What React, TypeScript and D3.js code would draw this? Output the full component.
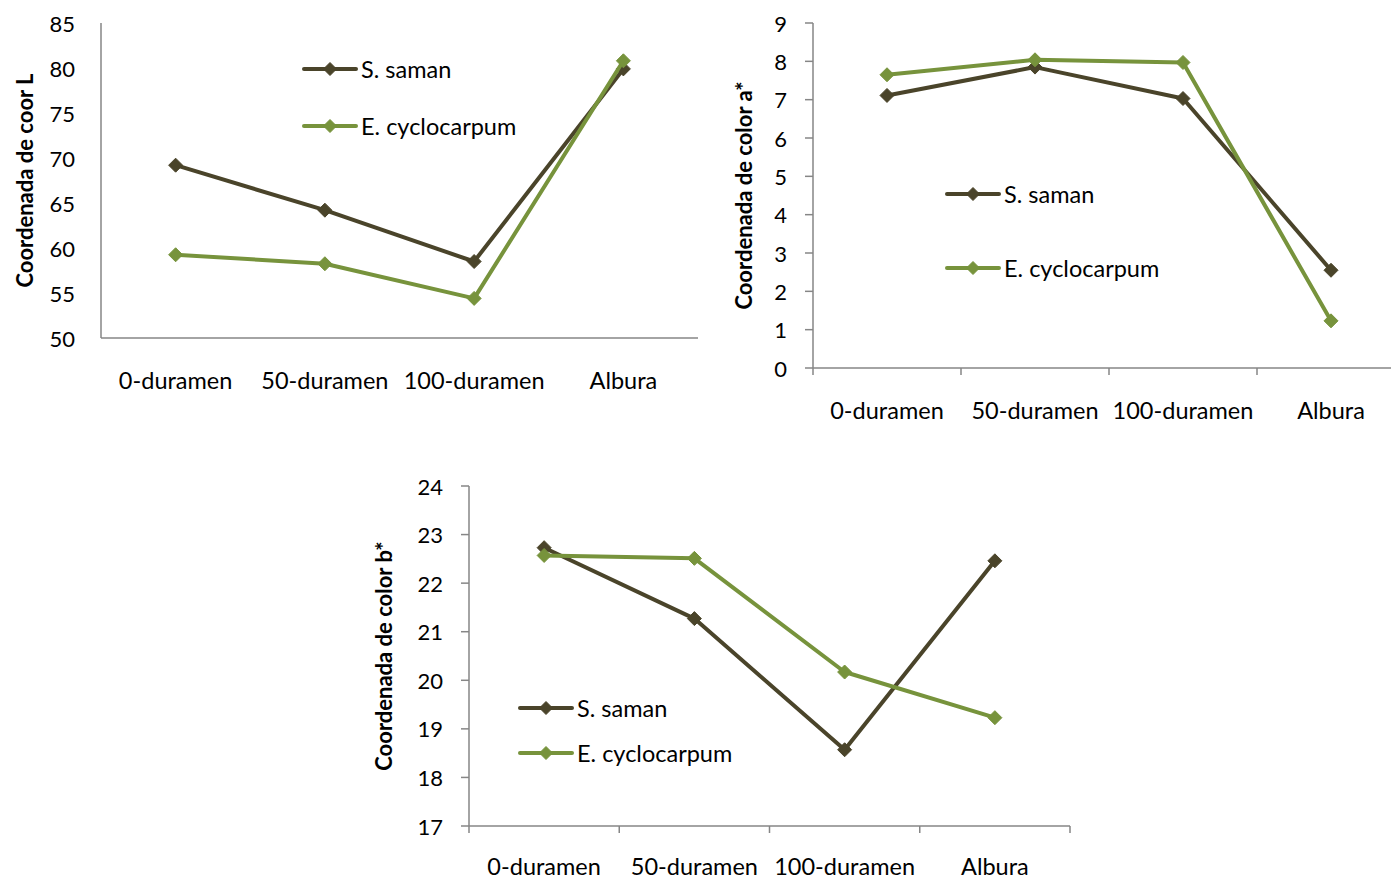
import React from "react";
import * as d3 from "d3";

// Wood zones measured along the radius
const categories = ["0-duramen", "50-duramen", "100-duramen", "Albura"];
const seriesNames = ["S. saman", "E. cyclocarpum"];
const seriesColors = ["#4a442a", "#77933c"];

// Coordinate L*
const samanL = [69.2, 64.2, 58.5, 79.9];
const cycloL = [59.25, 58.25, 54.4, 80.8];
const ticksL = [50, 55, 60, 65, 70, 75, 80, 85];

// Coordinate a*
const samanA = [7.11, 7.85, 7.03, 2.55];
const cycloA = [7.65, 8.04, 7.97, 1.23];
const ticksA = [0, 1, 2, 3, 4, 5, 6, 7, 8, 9];

// Coordinate b*
const samanB = [22.73, 21.27, 18.57, 22.46];
const cycloB = [22.57, 22.51, 20.17, 19.23];
const ticksB = [17, 18, 19, 20, 21, 22, 23, 24];

const FONT = "Lato, 'Open Sans', sans-serif";
const AXIS = "#868686";
const LABEL_SIZE = 23.5;
const TICK_SIZE = 22;
const TITLE_SIZE = 22;

type PanelProps = {
  left: number;
  right: number;
  top: number;
  bottom: number;
  ticks: number[];
  series: number[][];
  title: string;
  titleX: number;
  tickMarks: boolean;
  labelY: number;
  legendX: number;
  legendY: number[];
};

function Diamond({ x, y, color, r = 7 }: { x: number; y: number; color: string; r?: number }) {
  return (
    <path
      d={`M${x},${y - r}L${x + r},${y}L${x},${y + r}L${x - r},${y}Z`}
      fill={color}
      stroke={color}
      strokeWidth={1}
      strokeLinejoin="round"
    />
  );
}

function Panel(p: PanelProps) {
  const x = d3.scaleBand<string>().domain(categories).range([p.left, p.right]).padding(0);
  const y = d3
    .scaleLinear()
    .domain([p.ticks[0], p.ticks[p.ticks.length - 1]])
    .range([p.bottom, p.top]);
  const cx = (c: string) => (x(c) ?? 0) + x.bandwidth() / 2;
  const line = d3
    .line<number>()
    .x((_, i) => cx(categories[i]))
    .y((v) => y(v));
  const bounds = [...categories.map((c) => x(c) ?? 0), p.right];

  return (
    <g>
      {/* axes */}
      <line x1={p.left} x2={p.left} y1={p.top} y2={p.bottom} stroke={AXIS} strokeWidth={1.5} />
      <line x1={p.left} x2={p.right} y1={p.bottom} y2={p.bottom} stroke={AXIS} strokeWidth={1.5} />
      {p.tickMarks &&
        p.ticks.map((t) => (
          <line key={`yt${t}`} x1={p.left - 8} x2={p.left} y1={y(t)} y2={y(t)} stroke={AXIS} strokeWidth={1.5} />
        ))}
      {p.tickMarks &&
        bounds.map((b, i) => (
          <line key={`xt${i}`} x1={b} x2={b} y1={p.bottom} y2={p.bottom + 7} stroke={AXIS} strokeWidth={1.5} />
        ))}
      {p.ticks.map((t) => (
        <text
          key={`yl${t}`}
          x={p.left - 26}
          y={y(t)}
          textAnchor="end"
          dominantBaseline="central"
          fontFamily={FONT}
          fontSize={TICK_SIZE}
          fill="#000"
        >
          {t}
        </text>
      ))}
      {categories.map((c) => (
        <text
          key={c}
          x={cx(c)}
          y={p.labelY}
          textAnchor="middle"
          dominantBaseline="central"
          fontFamily={FONT}
          fontSize={LABEL_SIZE}
          fill="#000"
        >
          {c}
        </text>
      ))}
      <text
        transform={`translate(${p.titleX},${(p.top + p.bottom) / 2}) rotate(-90)`}
        textAnchor="middle"
        dominantBaseline="central"
        fontFamily={FONT}
        fontWeight="bold"
        fontSize={TITLE_SIZE}
        fill="#000"
      >
        {p.title}
      </text>
      {/* series */}
      {p.series.map((vals, si) => (
        <g key={si}>
          <path d={line(vals) ?? ""} fill="none" stroke={seriesColors[si]} strokeWidth={4} strokeLinejoin="round" />
          {vals.map((v, i) => (
            <Diamond key={i} x={cx(categories[i])} y={y(v)} color={seriesColors[si]} />
          ))}
        </g>
      ))}
      {/* legend */}
      {seriesNames.map((n, si) => (
        <g key={n}>
          <line
            x1={p.legendX}
            x2={p.legendX + 52}
            y1={p.legendY[si]}
            y2={p.legendY[si]}
            stroke={seriesColors[si]}
            strokeWidth={4}
            strokeLinecap="round"
          />
          <Diamond x={p.legendX + 26} y={p.legendY[si]} color={seriesColors[si]} r={6.5} />
          <text
            x={p.legendX + 57}
            y={p.legendY[si]}
            dominantBaseline="central"
            fontFamily={FONT}
            fontSize={LABEL_SIZE}
            fill="#000"
          >
            {n}
          </text>
        </g>
      ))}
    </g>
  );
}

export default function App() {
  return (
    <div style={{ position: "absolute", left: 0, top: 0 }}>
      <svg width={1391} height={880} style={{ display: "block", background: "#fff" }}>
        <Panel
          left={101}
          right={698}
          top={23}
          bottom={338}
          ticks={ticksL}
          series={[samanL, cycloL]}
          title="Coordenada de coor L"
          titleX={24}
          tickMarks={false}
          labelY={380}
          legendX={304}
          legendY={[69, 126]}
        />
        <Panel
          left={813}
          right={1405}
          top={23}
          bottom={368}
          ticks={ticksA}
          series={[samanA, cycloA]}
          title="Coordenada de color a*"
          titleX={743}
          tickMarks={true}
          labelY={410}
          legendX={947}
          legendY={[194, 268]}
        />
        <Panel
          left={469}
          right={1070}
          top={486}
          bottom={826}
          ticks={ticksB}
          series={[samanB, cycloB]}
          title="Coordenada de color b*"
          titleX={383}
          tickMarks={true}
          labelY={866}
          legendX={520}
          legendY={[708, 753]}
        />
      </svg>
    </div>
  );
}
